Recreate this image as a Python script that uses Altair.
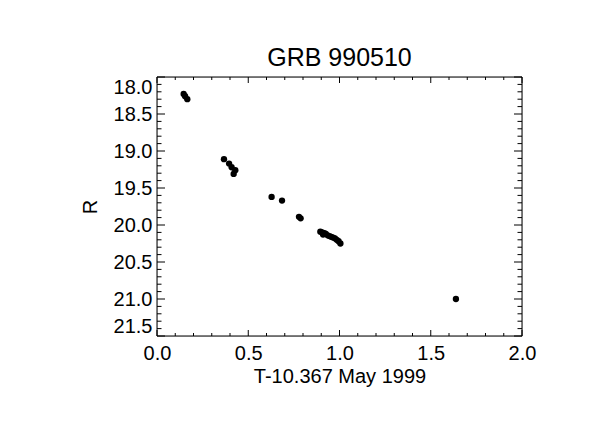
import altair as alt
import pandas as pd

# Data
t_days = [0.146, 0.154, 0.166,
          0.367, 0.395, 0.409, 0.429, 0.420,
          0.628, 0.685,
          0.778, 0.787,
          0.895, 0.905, 0.910, 0.917, 0.925, 0.935, 0.945, 0.955, 0.965, 0.975,
          0.985, 0.995, 1.005,
          1.638]
r_mag = [18.23, 18.26, 18.30,
         19.11, 19.17, 19.22, 19.26, 19.31,
         19.62, 19.67,
         19.89, 19.91,
         20.09, 20.10, 20.13, 20.11, 20.12, 20.14, 20.15, 20.16, 20.17, 20.18,
         20.20, 20.22, 20.25,
         21.00]

x_major = [0.0, 0.5, 1.0, 1.5, 2.0]
y_major = [18.0, 18.5, 19.0, 19.5, 20.0, 20.5, 21.0, 21.5]
x_minor = [round(i * 0.1, 1) for i in range(0, 21) if i % 5 != 0]
y_minor = [round(18.0 + i * 0.1, 1) for i in range(0, 36) if i % 5 != 0]

W, H = 365, 259
FONT = "Liberation Sans"

xs = alt.Scale(domain=[0, 2], nice=False, zero=False)
ys = alt.Scale(domain=[18.0, 21.5], reverse=True, nice=False, zero=False)

x_axis = alt.Axis(values=x_major, format=".1f", ticks=False, domain=False, grid=False,
                  labelFlush=False, labelOverlap=False, labelFontSize=20, labelFont=FONT,
                  labelColor="black", labelPadding=7,
                  title="T-10.367 May 1999", titleFontSize=20, titleFont=FONT,
                  titleFontWeight="normal", titleColor="black",
                  titleX=W / 2, titleY=46, titleBaseline="alphabetic", titleAlign="center")
y_axis = alt.Axis(values=y_major, format=".1f", ticks=False, domain=False, grid=False,
                  labelFlush=True, labelOverlap=False, labelFontSize=20, labelFont=FONT,
                  labelColor="black", labelPadding=5,
                  title="R", titleFontSize=20, titleFont=FONT, titleFontWeight="normal",
                  titleColor="black", titleAngle=-90, titleX=-67, titleY=H / 2,
                  titleBaseline="middle", titleAlign="center")

pts = pd.DataFrame({"t": t_days, "R": r_mag})

points = alt.Chart(pts).mark_circle(size=40, color="black", opacity=1).encode(
    x=alt.X("t:Q", scale=xs, axis=x_axis),
    y=alt.Y("R:Q", scale=ys, axis=y_axis),
)

def xticks(vals, length):
    df = pd.DataFrame({"v": vals})
    bottom = alt.Chart(df).mark_rule(color="black", strokeWidth=1).encode(
        x=alt.X("v:Q", scale=xs, axis=x_axis), y=alt.value(H), y2=alt.value(H - length))
    top = alt.Chart(df).mark_rule(color="black", strokeWidth=1).encode(
        x=alt.X("v:Q", scale=xs, axis=x_axis), y=alt.value(0), y2=alt.value(length))
    return [bottom, top]

def yticks(vals, length):
    df = pd.DataFrame({"v": vals})
    left = alt.Chart(df).mark_rule(color="black", strokeWidth=1).encode(
        y=alt.Y("v:Q", scale=ys, axis=y_axis), x=alt.value(0), x2=alt.value(length))
    right = alt.Chart(df).mark_rule(color="black", strokeWidth=1).encode(
        y=alt.Y("v:Q", scale=ys, axis=y_axis), x=alt.value(W), x2=alt.value(W - length))
    return [left, right]

frame = alt.Chart(pd.DataFrame({"k": [0]})).mark_rect(
    fill=None, fillOpacity=0, stroke="black", strokeWidth=1).encode(
    x=alt.value(0), x2=alt.value(W), y=alt.value(0), y2=alt.value(H))

layers = [points] + xticks(x_major, 6) + xticks(x_minor, 3) + yticks(y_major, 8) + yticks(y_minor, 4.5) + [frame]

chart = alt.layer(*layers).properties(
    width=W, height=H,
    title=alt.TitleParams("GRB 990510", fontSize=25, font=FONT, fontWeight="normal",
                          color="black", anchor="middle", baseline="alphabetic", offset=-14),
    autosize=alt.AutoSizeParams(type="none"),
    padding={"left": 149, "top": 69, "right": 78, "bottom": 96},
).configure_view(stroke=None).configure(background="white")

chart.save("out.html", embed_options={"renderer": "svg", "actions": False})
